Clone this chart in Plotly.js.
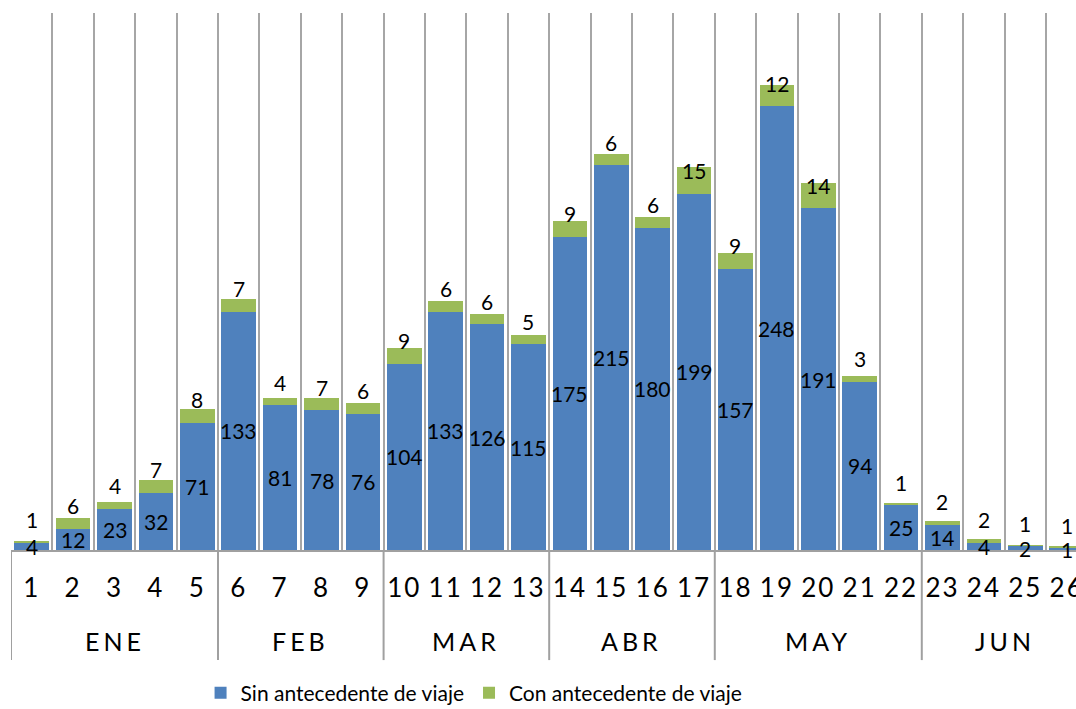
<!DOCTYPE html>
<html>
<head>
<meta charset="utf-8">
<script src="https://cdn.plot.ly/plotly-3.0.1.min.js"></script>
<style>
html,body{margin:0;padding:0;background:#fff;}
#chart{width:1076px;height:709px;}
#chart .xtick text{letter-spacing:2px;}
#chart text.annotation-text[style*="font-size: 25px"]{letter-spacing:4px;}
</style>
</head>
<body>
<div id="chart"></div>
<script>
const weeks = ["1","2","3","4","5","6","7","8","9","10","11","12","13","14","15","16","17","18","19","20","21","22","23","24","25","26"];
const months = ["ENE","FEB","MAR","ABR","MAY","JUN"];
const weeksPerMonth = [5,4,4,4,5,4];
const sinViaje = [4,12,23,32,71,133,81,78,76,104,133,126,115,175,215,180,199,157,248,191,94,25,14,4,2,1];
const conViaje = [1,6,4,7,8,7,4,7,6,9,6,6,5,9,6,6,15,9,12,14,3,1,2,2,1,1];
const seriesNames = ["Sin antecedente de viaje","Con antecedente de viaje"];

const FONT = 'Lato, "Noto Sans", sans-serif';
const idx = weeks.map((w,i)=>i);

const traces = [
  {type:'bar', x:idx, y:sinViaje, name:seriesNames[0], marker:{color:'#4F81BD'}, hoverinfo:'skip'},
  {type:'bar', x:idx, y:conViaje, name:seriesNames[1], marker:{color:'#9BBB59'}, hoverinfo:'skip'}
];

const annotations = [];
idx.forEach(i=>{
  annotations.push({x:i, y:sinViaje[i]/2, xref:'x', yref:'y', text:String(sinViaje[i]), showarrow:false,
    font:{family:FONT,size:21,color:'#000'}, yanchor:'middle'});
  annotations.push({x:i, y:sinViaje[i], xref:'x', yref:'y', text:String(conViaje[i]), showarrow:false,
    font:{family:FONT,size:21,color:'#000'}, yanchor:'middle', yshift:23});
});

// month labels and dividers
const shapes = [];
let start = 0;
months.forEach((m,k)=>{
  const n = weeksPerMonth[k];
  const center = start + (n-1)/2;
  annotations.push({x:center, xref:'x', y:-0.169, yref:'paper', text:m, showarrow:false,
    font:{family:FONT,size:25,color:'#000'}, yanchor:'middle'});
  shapes.push({type:'line', xref:'x', yref:'paper', x0:start-0.5, x1:start-0.5, y0:0, y1:-0.205,
    line:{color:'#a0a0a0', width:2}});
  start += n;
});

const layout = {
  width:1076, height:709,
  margin:{l:11, r:0, t:13, b:159},
  barmode:'stack', bargap:0.167,
  paper_bgcolor:'#fff', plot_bgcolor:'#fff',
  font:{family:FONT, color:'#000'},
  showlegend:true,
  legend:{orientation:'h', xref:'paper', x:0.178, xanchor:'left', yref:'container', y:0.0226, yanchor:'middle',
    font:{family:FONT,size:21,color:'#000'}, traceorder:'normal', itemwidth:30},
  xaxis:{type:'linear', range:[-0.5, 25.225], tickvals:idx, ticktext:weeks, ticklabeloverflow:'allow',
    tickfont:{family:FONT,size:26,color:'#000'}, ticks:'outside', ticklen:14, tickcolor:'rgba(0,0,0,0)',
    showgrid:false, zeroline:false, showline:true, linecolor:'#a0a0a0', linewidth:2,
    minor:{tickvals:idx.map(i=>i-0.5).concat([weeks.length-0.5]), showgrid:true, gridcolor:'#a6a6a6', gridwidth:2, ticks:''},
    fixedrange:true},
  yaxis:{range:[0,300], visible:false, showgrid:false, zeroline:false, fixedrange:true},
  annotations:annotations,
  shapes:shapes
};

Plotly.newPlot('chart', traces, layout, {displayModeBar:false, staticPlot:true});
</script>
</body>
</html>
